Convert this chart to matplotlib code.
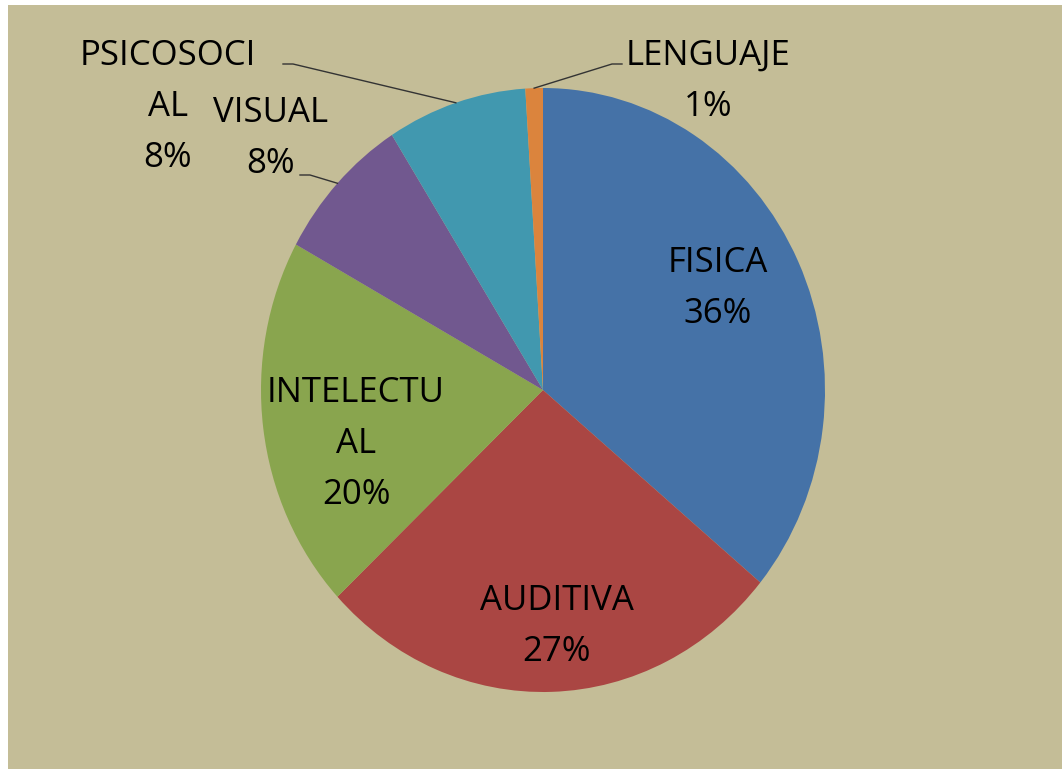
import numpy as np
import matplotlib
matplotlib.use("Agg")
import matplotlib.pyplot as plt
from matplotlib.patches import Rectangle

categories = ["FISICA", "AUDITIVA", "INTELECTUAL", "VISUAL", "PSICOSOCIAL", "LENGUAJE"]
values = [36, 27, 20, 8, 8, 1]
# how the labels wrap in the original
label_lines = [["FISICA"], ["AUDITIVA"], ["INTELECTU", "AL"], ["VISUAL"],
               ["PSICOSOCI", "AL"], ["LENGUAJE"]]
colors = ["#4572A7", "#AA4643", "#89A54E", "#71588F", "#4198AF", "#DB843D"]

W, H = 1062, 769
fig = plt.figure(figsize=(W / 100, H / 100), dpi=100, facecolor="white")
fig.patches.append(Rectangle((8 / W, 0), 1, (H - 5) / H, transform=fig.transFigure,
                             facecolor="#C4BD97", edgecolor="none", zorder=-1))

# pie is slightly taller than wide in the original
cx, cy, rx, ry = 543, 390, 282, 302
ax = fig.add_axes([(cx - rx) / W, (H - cy - ry) / H, 2 * rx / W, 2 * ry / H])
wedges, _ = ax.pie(values, colors=colors, startangle=90, counterclock=False,
                   radius=1, wedgeprops=dict(linewidth=0))
ax.set_aspect("auto")
ax.set_xlim(-1, 1)
ax.set_ylim(-1, 1)
ax.axis("off")

def px(x, y):
    return (x - cx) / rx, (cy - y) / ry

# label x centre and first baseline (pixels); leader lines for outside labels
label_pos = [(718, 272), (557, 610), (356, 402), (271, 122), (168, 65), (708, 65)]
line_step = 51
leaders = {3: [(300, 175), (310, 175)], 4: [(283, 64), (293, 64)], 5: [(622, 64), (612, 64)]}

font = dict(family=["Open Sans", "DejaVu Sans"], fontsize=25, color="black")
total = sum(values)
for i, w in enumerate(wedges):
    pct = "%d%%" % round(100 * values[i] / total)
    x0, y0 = label_pos[i]
    for k, line in enumerate(label_lines[i] + [pct]):
        x, y = px(x0, y0 + k * line_step)
        ax.text(x, y, line, ha="center", va="baseline", clip_on=False, **font)
    if i in leaders:
        mid = np.deg2rad((w.theta1 + w.theta2) / 2)
        pts = [px(*p) for p in leaders[i]] + [(np.cos(mid), np.sin(mid))]
        xs, ys = zip(*pts)
        ax.plot(xs, ys, color="#333333", lw=1, clip_on=False)

fig.savefig("out.png", dpi=100, facecolor=fig.get_facecolor())
